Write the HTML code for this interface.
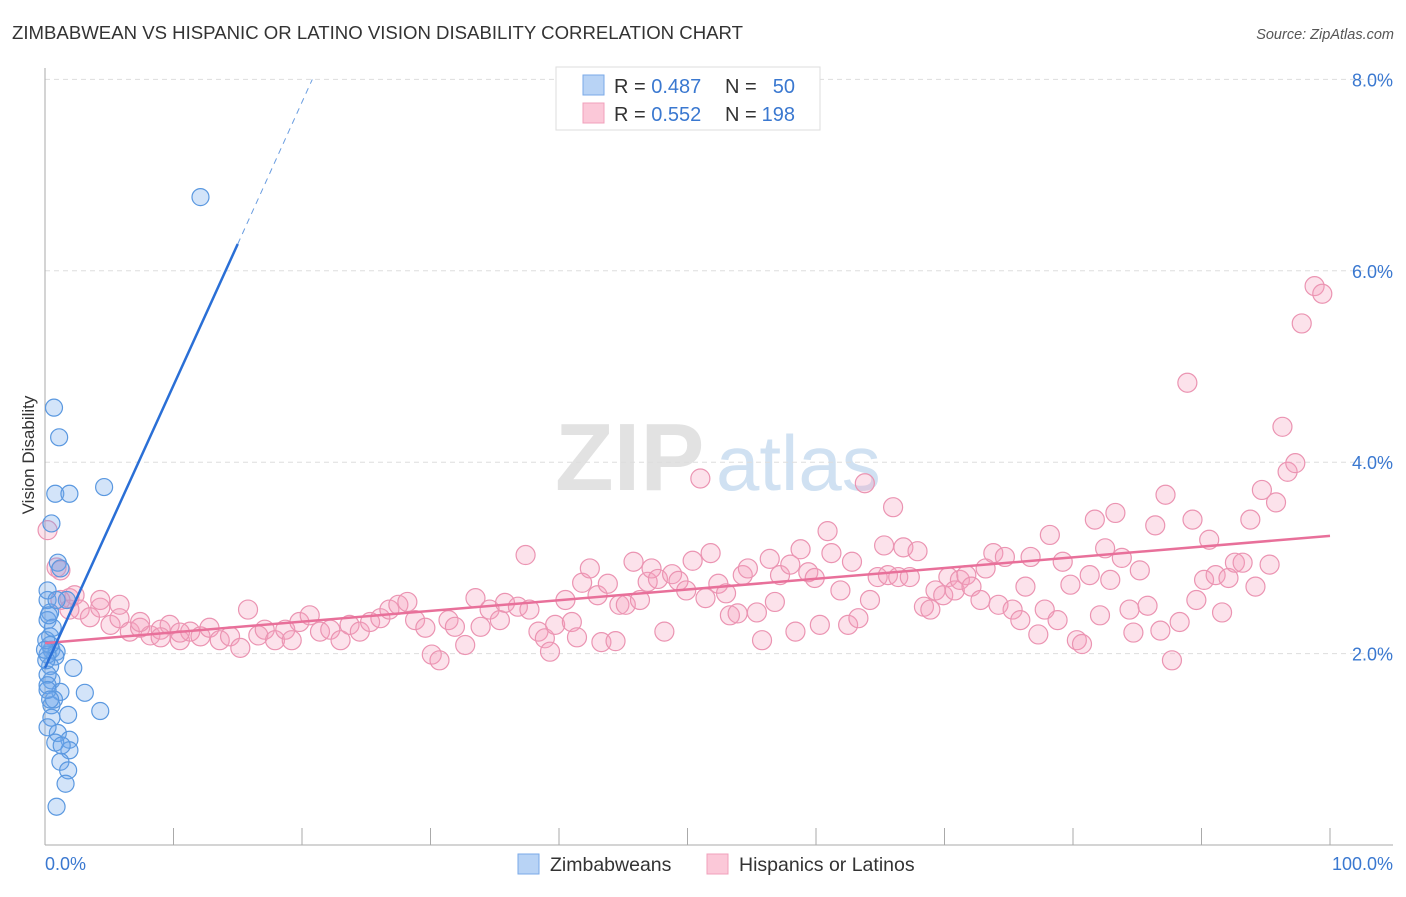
<!DOCTYPE html>
<html><head><meta charset="utf-8"><style>
body{margin:0;background:#fff;font-family:"Liberation Sans",sans-serif;}
svg text{font-family:"Liberation Sans",sans-serif;}
</style></head><body>
<svg id="chart" width="1406" height="892" xmlns="http://www.w3.org/2000/svg">
<text x="12" y="39" font-size="18" fill="#333" textLength="731" lengthAdjust="spacingAndGlyphs">ZIMBABWEAN VS HISPANIC OR LATINO VISION DISABILITY CORRELATION CHART</text>
<text x="1394" y="39" font-size="14.5" fill="#555" font-style="italic" text-anchor="end">Source: ZipAtlas.com</text>
<g>
<text x="555" y="490" font-size="96" fill="#e2e2e2" font-family="Liberation Serif" font-weight="bold">ZIP</text>
<text x="716" y="490" font-size="78" fill="#d0e1f2">atlas</text>
</g>
<g id="grid"></g>
<g id="axes"></g>
<text transform="translate(34,455) rotate(-90)" font-size="17" fill="#333" text-anchor="middle">Vision Disability</text>
<g id="pink"></g>
<g id="blue"></g>
<g id="trends"></g>
<g>
<rect x="556" y="67" width="264" height="63" fill="#fff" stroke="#ddd"/>
<rect x="583" y="75" width="21" height="20" fill="#b8d3f5" stroke="#7aaae8"/>
<rect x="583" y="103" width="21" height="20" fill="#fbc8d8" stroke="#f0a0bb"/>
<text x="614" y="93" font-size="20" fill="#333">R = <tspan fill="#3a78d0">0.487</tspan></text>
<text x="725" y="93" font-size="20" fill="#333">N =</text>
<text x="795" y="93" font-size="20" fill="#3a78d0" text-anchor="end">50</text>
<text x="614" y="121" font-size="20" fill="#333">R = <tspan fill="#3a78d0">0.552</tspan></text>
<text x="725" y="121" font-size="20" fill="#333">N =</text>
<text x="795" y="121" font-size="20" fill="#3a78d0" text-anchor="end">198</text>
</g>
<g>
<rect x="518" y="854" width="21" height="20" fill="#b8d3f5" stroke="#7aaae8"/>
<text x="550" y="871" font-size="19.5" fill="#333">Zimbabweans</text>
<rect x="707" y="854" width="21" height="20" fill="#fbc8d8" stroke="#f0a0bb"/>
<text x="739" y="871" font-size="19.5" fill="#333">Hispanics or Latinos</text>
</g>
</svg>
<script>
const yTicks=[2,4,6,8];
const yTickLabels=["2.0%","4.0%","6.0%","8.0%"];
const xTickLabels=["0.0%","100.0%"];
const blueX=[0.7,1.1,0.8,1.9,4.6,0.5,1.0,1.2,1.7,0.4,0.2,0.4,0.5,0.9,0.8,2.2,0.4,0.5,0.2,0.2,1.2,3.1,0.5,4.3,1.8,0.5,1.0,1.9,0.8,1.9,1.2,1.8,1.6,0.9,12.1,0.2,0.4,0.2,0.7,1.3,0.1,0.1,0.2,0.2,0.6,0.2,0.3,0.4,0.9,0.0];
const blueY=[4.57,4.26,3.67,3.67,3.74,3.36,2.95,2.89,2.56,2.43,2.35,2.18,2.04,2.02,1.97,1.85,1.87,1.72,1.78,1.67,1.60,1.59,1.46,1.40,1.36,1.33,1.17,1.10,1.07,0.99,0.87,0.78,0.64,0.40,6.77,2.56,2.09,1.99,1.52,1.04,2.14,1.93,1.62,1.23,2.27,2.66,2.40,1.52,2.56,2.04];
const pinkX=[0.2,0.9,1.2,1.9,2.3,2.7,3.5,4.3,5.1,5.8,6.6,7.4,8.2,9.0,9.7,10.5,11.3,12.1,12.8,13.6,14.4,15.2,15.8,16.6,17.1,17.9,18.7,19.2,19.8,20.6,21.4,22.2,23.0,23.7,24.5,25.3,26.1,26.8,27.5,28.2,28.8,29.6,30.1,30.7,31.4,31.9,32.7,33.5,33.9,34.6,35.4,35.8,36.8,37.4,37.7,38.4,38.9,39.3,39.7,40.5,41.0,41.4,41.8,42.4,43.0,43.3,43.8,44.4,44.7,45.2,45.8,46.3,46.9,47.2,47.7,48.2,48.8,49.3,49.9,50.4,51.0,51.4,51.8,52.4,53.0,53.3,53.9,54.3,54.7,55.4,55.8,56.4,56.8,57.2,58.0,58.4,58.8,59.4,59.9,60.3,60.9,61.2,61.9,62.5,62.8,63.3,63.8,64.2,64.8,65.3,65.6,66.0,66.4,66.8,67.3,67.9,68.4,68.9,69.3,69.9,70.3,70.8,71.2,71.7,72.1,72.8,73.2,73.8,74.2,74.7,75.3,75.9,76.3,76.7,77.3,77.8,78.2,78.8,79.2,79.8,80.3,80.7,81.3,81.7,82.1,82.5,82.9,83.3,83.8,84.4,84.7,85.2,85.8,86.4,86.8,87.2,87.7,88.3,88.9,89.3,89.6,90.2,90.6,91.1,91.6,92.1,92.6,93.2,93.8,94.2,94.7,95.3,95.8,96.3,96.7,97.3,97.8,98.8,99.4,4.3,5.8,7.4,9.0,10.5,1.2,1.9];
const pinkY=[3.29,2.90,2.87,2.58,2.61,2.46,2.38,2.48,2.30,2.37,2.23,2.27,2.19,2.25,2.30,2.14,2.23,2.18,2.27,2.14,2.18,2.06,2.46,2.19,2.25,2.14,2.25,2.14,2.33,2.40,2.23,2.25,2.14,2.30,2.23,2.33,2.37,2.46,2.51,2.54,2.35,2.27,1.99,1.93,2.35,2.28,2.09,2.58,2.28,2.46,2.35,2.53,2.49,3.03,2.46,2.23,2.16,2.02,2.30,2.56,2.33,2.17,2.74,2.89,2.61,2.12,2.73,2.13,2.51,2.51,2.96,2.56,2.75,2.89,2.78,2.23,2.83,2.76,2.66,2.97,3.83,2.58,3.05,2.73,2.63,2.40,2.42,2.82,2.89,2.43,2.14,2.99,2.54,2.82,2.93,2.23,3.09,2.85,2.79,2.30,3.28,3.05,2.66,2.30,2.96,2.37,3.78,2.56,2.80,3.13,2.82,3.53,2.80,3.11,2.80,3.07,2.49,2.46,2.66,2.61,2.80,2.66,2.77,2.82,2.70,2.56,2.89,3.05,2.51,3.01,2.46,2.35,2.70,3.01,2.20,2.46,3.24,2.35,2.96,2.72,2.14,2.10,2.82,3.40,2.40,3.10,2.77,3.47,3.00,2.46,2.22,2.87,2.50,3.34,2.24,3.66,1.93,2.33,4.83,3.40,2.56,2.77,3.19,2.82,2.43,2.79,2.95,2.95,3.40,2.70,3.71,2.93,3.58,4.37,3.90,3.99,5.45,5.84,5.76,2.56,2.51,2.33,2.17,2.22,2.56,2.46];
const blueTrend=[[0,1.85],[15.0,6.28]];
const blueDash=[[15.0,6.28],[20.8,8.0]];
const pinkTrend=[[0,2.11],[100,3.23]];

const NS="http://www.w3.org/2000/svg";
const X0=45,X1=1330,Y0=845,PPY=95.7;
function sx(v){return X0+(X1-X0)*v/100;}
function sy(v){return Y0-v*PPY;}
function mk(tag,attrs,parent){const e=document.createElementNS(NS,tag);for(const k in attrs)e.setAttribute(k,attrs[k]);parent.appendChild(e);return e;}
const grid=document.getElementById('grid'),axes=document.getElementById('axes');
yTicks.forEach((t,i)=>{
  const l=mk('line',{x1:X0,x2:1393,y1:sy(t),y2:sy(t),stroke:'#ddd','stroke-dasharray':'5,4'},grid);
  
  
  const tx=mk('text',{x:1393,y:sy(t)+7,'font-size':18,fill:'#3a78d0','text-anchor':'end'},axes);
  tx.textContent=yTickLabels[i];
  
  
});
let a=mk('line',{x1:X0,x2:X0,y1:68,y2:Y0,stroke:'#aaa'},axes);


a=mk('line',{x1:X0,x2:1393,y1:Y0,y2:Y0,stroke:'#aaa'},axes);


for(let i=0;i<=10;i++){
  const t=mk('line',{x1:sx(i*10),x2:sx(i*10),y1:Y0,y2:Y0-17,stroke:'#aaa'},axes);
  
  
}
[[0,'start',X0],[1,'end',1393]].forEach(([i,anc,x])=>{
  const t=mk('text',{x:x,y:870,'font-size':18,fill:'#3a78d0','text-anchor':anc},axes);
  t.textContent=xTickLabels[i];
  
  
});
const pg=document.getElementById('pink');
pinkX.forEach((x,i)=>{
  const c=mk('circle',{cx:sx(x),cy:sy(pinkY[i]),r:9.5,fill:'rgba(245,160,190,0.3)',stroke:'#eb94b2','stroke-width':1.2},pg);
  
  
});
const bg=document.getElementById('blue');
blueX.forEach((x,i)=>{
  const c=mk('circle',{cx:sx(x),cy:sy(blueY[i]),r:8.5,fill:'rgba(110,165,235,0.3)',stroke:'#5a98e0','stroke-width':1.2},bg);
  
  
});
const tg=document.getElementById('trends');
let l=mk('line',{x1:sx(pinkTrend[0][0]),y1:sy(pinkTrend[0][1]),x2:sx(pinkTrend[1][0]),y2:sy(pinkTrend[1][1]),stroke:'#e8709a','stroke-width':2.5},tg);


l=mk('line',{x1:sx(blueTrend[0][0]),y1:sy(blueTrend[0][1]),x2:sx(blueTrend[1][0]),y2:sy(blueTrend[1][1]),stroke:'#2a6fd6','stroke-width':2.5},tg);


l=mk('line',{x1:sx(blueDash[0][0]),y1:sy(blueDash[0][1]),x2:sx(blueDash[1][0]),y2:sy(blueDash[1][1]),stroke:'#6a9de0','stroke-width':1,'stroke-dasharray':'6,5'},tg);


</script>
</body></html>
